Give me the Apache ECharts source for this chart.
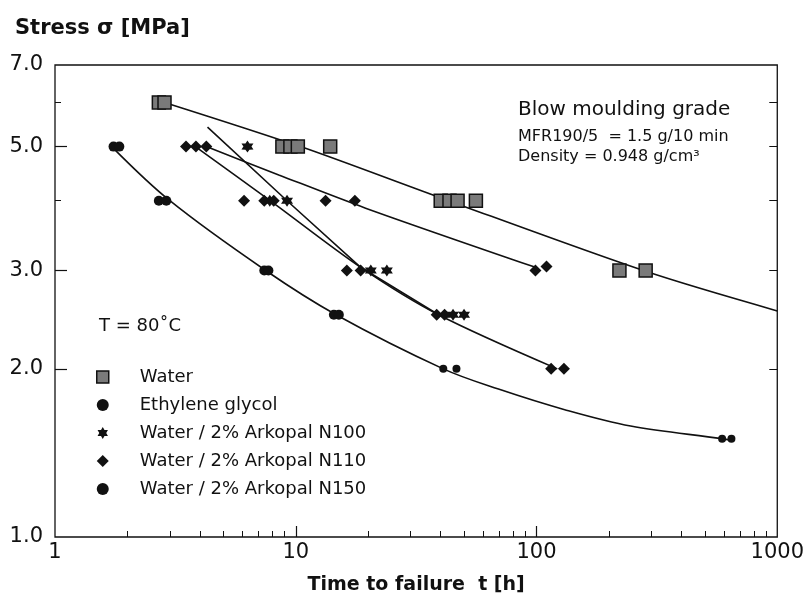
<!DOCTYPE html>
<html><head><meta charset="utf-8">
<script src="https://cdn.jsdelivr.net/npm/echarts@6/dist/echarts.min.js"></script>
<style>html,body{margin:0;padding:0;background:#fff}#c{width:807px;height:603px}</style>
</head><body><div id="c"></div>
<script>
// ---- tick / label values ----
const xLabelValues = [1, 10, 100, 1000];
const xMinorTicks = [2,3,4,5,6,7,8,9,20,30,40,50,60,70,80,90,200,300,400,500,600,700,800,900];
const xMajorTicks = [10, 100];
const yLabelValues = [1, 2, 3, 5, 7];
const yMajorTicks = [2, 3, 5];
const yMinorTicks = [4, 6];
const yRightTicks = [2, 3, 4, 5, 6];

// ---- measured points [time to failure t (h), stress (MPa)] ----
const water = [[2.7,6.0],[2.85,6.0],[8.8,5.0],[9.5,5.0],[10.2,5.0],[13.9,5.0],[40,4.0],[43.5,4.0],[47,4.0],[56,4.0],[221,3.0],[284,3.0]];
const ethyleneGlycol = [[1.75,5.0],[1.85,5.0],[2.7,4.0],[2.9,4.0],[7.4,3.0],[7.7,3.0],[14.4,2.5],[15.1,2.5]];
const arkopalN100 = [[6.3,5.0],[7.8,4.0],[9.2,4.0],[20.5,3.0],[23.9,3.0],[45,2.5],[50,2.5]];
const arkopalN110 = [[3.5,5.0],[3.85,5.0],[4.25,5.0],[6.1,4.0],[7.4,4.0],[8.1,4.0],[13.3,4.0],[17.6,4.0],[16.3,3.0],[18.6,3.0],[99,3.0],[110,3.05],[38.5,2.5],[41.5,2.5],[115,2.0],[130,2.0]];
const arkopalN150 = [[41,2.0],[46.5,2.0],[590,1.5],[645,1.5]];

// ---- fitted curves ----
const waterFit = [[2.85,6.0],[10.6,4.99],[39.2,4.06],[284,2.99],[1000,2.54]];
const fitA = [[3.83,5.0],[7.9,3.99],[18.6,3.04],[39.2,2.5],[122,2.0]];
const fitB = [[4.3,5.42],[9.2,4.0],[18.6,3.04],[39.2,2.5]];
const fitC = [[4.25,5.0],[8.5,4.45],[19.5,3.88],[99,3.04]];
const fitBottom = [[1.72,5.0],[3.0,4.0],[7.5,3.0],[14.7,2.5],[41,2.0],[69.5,1.84],[131,1.69],[246,1.58],[590,1.5],[645,1.49]];

const FONT = 'DejaVu Sans';
const INK = '#111';
const STAR = 'path://M50 0 L64.5 24.9 L93.3 25 L79 50 L93.3 75 L64.5 75.1 L50 100 L35.5 75.1 L6.7 75 L21 50 L6.7 25 L35.5 24.9 Z';

function fit(data, smooth) {
  return { type: 'line', data: data, smooth: smooth, showSymbol: false, silent: true,
    lineStyle: { color: INK, width: 1.6 }, z: 1, xAxisIndex: 0, yAxisIndex: 0 };
}
function pts(name, data, symbol, size, style) {
  return { type: 'scatter', name: name, data: data, symbol: symbol, symbolSize: size,
    itemStyle: Object.assign({ opacity: 1 }, style), z: 3, xAxisIndex: 0, yAxisIndex: 0 };
}
const blackFill = { color: INK };

const chart = echarts.init(document.getElementById('c'), null, { renderer: 'canvas' });
const logX = { type: 'log', logBase: 10, min: 1, max: 1000, gridIndex: 0 };
const logY = { type: 'log', logBase: 10, min: 1, max: 7, gridIndex: 0 };

chart.setOption({
  animation: false,
  backgroundColor: '#fff',
  title: { text: 'Stress σ [MPa]', left: 10, top: 13,
    textStyle: { fontFamily: FONT, fontSize: 21, fontWeight: 'bold', color: INK } },
  grid: { left: 55, right: 27, top: 65, bottom: 66, show: true, borderColor: INK, borderWidth: 1.3, containLabel: false },
  legend: {
    data: [
      { name: 'Water', icon: 'rect', itemStyle: { color: '#7a7a7a', borderColor: INK, borderWidth: 1.5, opacity: 1 } },
      { name: 'Ethylene glycol', icon: 'circle' },
      { name: 'Water / 2% Arkopal N100', icon: STAR },
      { name: 'Water / 2% Arkopal N110', icon: 'diamond' },
      { name: 'Water / 2% Arkopal N150', icon: 'circle' }
    ],
    orient: 'vertical', left: 96, top: 368, padding: 0, itemGap: 10,
    itemWidth: 12, itemHeight: 12, selectedMode: false,
    textStyle: { fontFamily: FONT, fontSize: 18, color: INK, lineHeight: 18, padding: [0,0,0,26] }
  },
  xAxis: [
    Object.assign({}, logX, { position: 'bottom',
      name: 'Time to failure  t [h]', nameLocation: 'middle', nameGap: 39,
      nameTextStyle: { fontFamily: FONT, fontSize: 19, fontWeight: 'bold', color: INK },
      axisLine: { show: false, onZero: false },
      axisTick: { show: true, inside: true, length: 6, customValues: xMinorTicks, lineStyle: { color: INK, width: 1 } },
      axisLabel: { show: true, customValues: xLabelValues, margin: 5, fontFamily: FONT, fontSize: 21, color: INK,
        formatter: v => String(Math.round(v)) },
      splitLine: { show: false }, minorTick: { show: false } }),
    Object.assign({}, logX, { position: 'bottom',
      axisLine: { show: false, onZero: false },
      axisTick: { show: true, inside: true, length: 11, customValues: xMajorTicks, lineStyle: { color: INK, width: 1.2 } },
      axisLabel: { show: false }, splitLine: { show: false } })
  ],
  yAxis: [
    Object.assign({}, logY, { position: 'left',
      axisLine: { show: false, onZero: false },
      axisTick: { show: true, inside: true, length: 12, customValues: yMajorTicks, lineStyle: { color: INK, width: 1.2 } },
      axisLabel: { show: true, customValues: yLabelValues, margin: 12, fontFamily: FONT, fontSize: 21, color: INK,
        formatter: v => v.toFixed(1) },
      splitLine: { show: false } }),
    Object.assign({}, logY, { position: 'left',
      axisLine: { show: false, onZero: false },
      axisTick: { show: true, inside: true, length: 6, customValues: yMinorTicks, lineStyle: { color: INK, width: 1 } },
      axisLabel: { show: false }, splitLine: { show: false } }),
    Object.assign({}, logY, { position: 'right',
      axisLine: { show: false, onZero: false },
      axisTick: { show: true, inside: true, length: 8, customValues: yRightTicks, lineStyle: { color: INK, width: 1 } },
      axisLabel: { show: false }, splitLine: { show: false } })
  ],
  graphic: [
    { type: 'text', x: 518, y: 110, style: { text: 'Blow moulding grade', fontFamily: FONT, fontSize: 20, fill: INK, verticalAlign: 'middle' } },
    { type: 'text', x: 518, y: 137, style: { text: 'MFR190/5  = 1.5 g/10 min', fontFamily: FONT, fontSize: 16, fill: INK, verticalAlign: 'middle' } },
    { type: 'text', x: 518, y: 157, style: { text: 'Density = 0.948 g/cm³', fontFamily: FONT, fontSize: 16, fill: INK, verticalAlign: 'middle' } },
    { type: 'text', x: 99, y: 326, style: { text: 'T = 80˚C', fontFamily: FONT, fontSize: 18, fill: INK, verticalAlign: 'middle' } }
  ],
  series: [
    fit(waterFit, 0.3), fit(fitA, 0.3), fit(fitB, 0), fit(fitC, 0.3), fit(fitBottom, 0.35),
    pts('Water', water, 'rect', 13, { color: '#7a7a7a', borderColor: INK, borderWidth: 1.5 }),
    pts('Ethylene glycol', ethyleneGlycol, 'circle', 10, blackFill),
    pts('Water / 2% Arkopal N100', arkopalN100, STAR, 12, blackFill),
    pts('Water / 2% Arkopal N110', arkopalN110, 'diamond', 12, blackFill),
    pts('Water / 2% Arkopal N150', arkopalN150, 'circle', 8, blackFill)
  ]
});
</script>
</body></html>
